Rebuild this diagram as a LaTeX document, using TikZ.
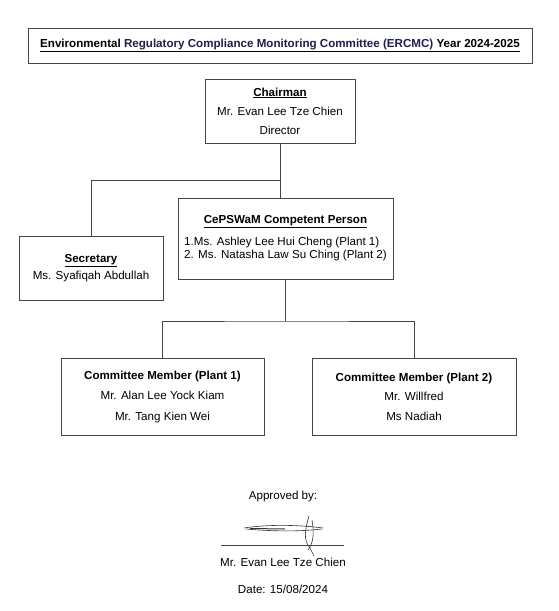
\documentclass[tikz,border=0pt]{standalone}
\usepackage{fontspec}
\setmainfont{Liberation Sans}
\usetikzlibrary{positioning}
\definecolor{linegray}{RGB}{70,70,70}
\definecolor{titlenavy}{RGB}{30,30,76}

\begin{document}
\begin{tikzpicture}[
  x=1pt,y=-1pt,
  font=\fontsize{11.6}{13.5}\selectfont,
  box/.style={draw=linegray,line width=0.9pt,align=center,inner sep=0pt},
  link/.style={draw=linegray,line width=0.9pt},
  pen/.style={line width=0.6pt,black!80}
]
\useasboundingbox (0,0) rectangle (559,611);
\node[box,minimum width=504,minimum height=35] (title) at (280,45.5)
  {\underline{\textbf{Environmental {\color{titlenavy}Regulatory Compliance Monitoring Committee (ERCMC)} Year 2024-2025}}};
\node[box,minimum width=150,minimum height=64] (chair) at (280,111)
  {\underline{\textbf{Chairman}}\\[5.5pt]Mr. Evan Lee Tze Chien\\[5.5pt]Director};
\node[box,minimum width=144,minimum height=64] (sec) at (91,268)
  {\underline{\textbf{Secretary}}\\[4pt]Ms. Syafiqah Abdullah};
\node[box,minimum width=215,minimum height=81] (cep) at (285.5,238.5)
  {\begin{tabular}{@{}l@{}}\multicolumn{1}{c}{\underline{\textbf{CePSWaM Competent Person}}}\\[8pt]
   1.Ms. Ashley Lee Hui Cheng (Plant 1)\\ 2. Ms. Natasha Law Su Ching (Plant 2)\end{tabular}};
\node[box,minimum width=203,minimum height=77] (m1) at (162.5,396.5)
  {\textbf{Committee Member (Plant 1)}\\[7pt]Mr. Alan Lee Yock Kiam\\[7pt]Mr. Tang Kien Wei};
\node[box,minimum width=204,minimum height=77] (m2) at (414,396.5)
  {\textbf{Committee Member (Plant 2)}\\[6pt]Mr. Willfred\\[6pt]Ms Nadiah};

\coordinate (upjoint) at (280,180);
\coordinate (lowjoint) at (285.5,321);
\draw[link] (chair.south) -- (chair.south |- cep.north);
\draw[link] (upjoint) -| (sec.north);
\draw[link] (cep.south) -- (lowjoint);
\draw[link] (m1.north) |- (lowjoint) -| (m2.north);

% sign-off
\node (approve) at (283,496) {Approved by:};
\coordinate (signL) at (221,545);
\coordinate (signR) at (344,545);
\draw[link,line width=0.7pt] (signL) -- (signR);
\node (signer) at (283,562) {Mr. Evan Lee Tze Chien};
\node (date) at (283,589) {Date: 15/08/2024};
\draw[pen] (244,528) .. controls (270,524) and (300,525) .. (323,528);
\draw[pen] (246,529) .. controls (280,532) and (305,531) .. (322,529);
\draw[pen,line width=1pt] (250,528.5) -- (285,529);
\draw[pen] (309,516) .. controls (305,530) and (303,540) .. (310,548) -- (314,556);
\draw[pen] (312,520) .. controls (314,532) and (314,542) .. (308,550);
\end{tikzpicture}
\end{document}
